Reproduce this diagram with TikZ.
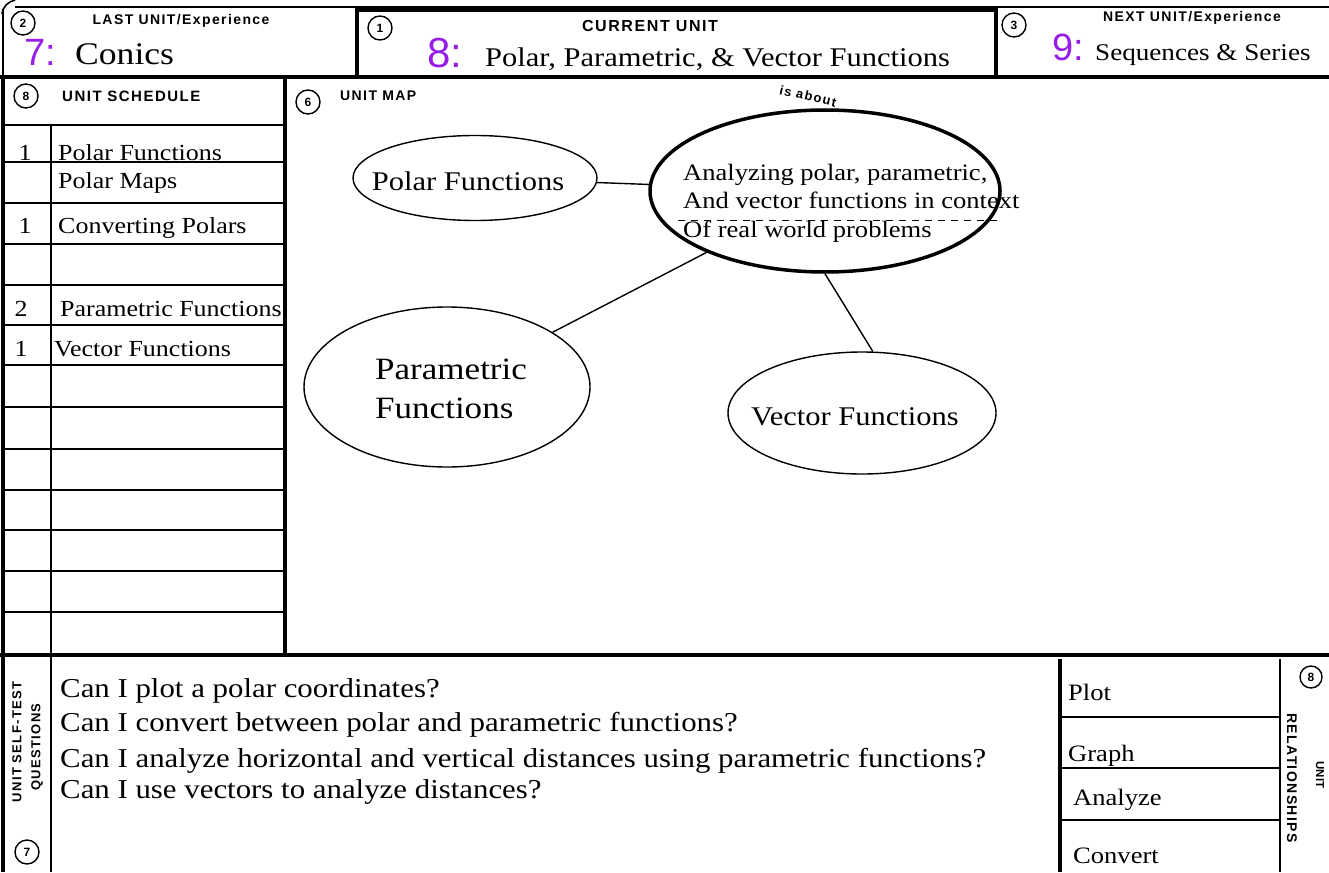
\documentclass[tikz,border=0pt]{standalone}
\usepackage{fontspec}
\setmainfont{Liberation Serif}[FakeStretch=1.13]
\setsansfont{Liberation Sans}
\newfontfamily\hdrfont{Liberation Sans}[LetterSpace=10]
\usetikzlibrary{shapes.geometric}
\definecolor{ink}{RGB}{150,30,230}
\begin{document}
\begin{tikzpicture}[x=1pt,y=-1pt,
  rule/.style={line width=1.6pt},
  heavy/.style={line width=3.4pt},
  circnum/.style={circle,draw,line width=1.4pt,inner sep=0pt,minimum size=24pt,font=\sffamily\bfseries\fontsize{12}{12}\selectfont},
  hdr/.style={inner sep=0pt,font=\hdrfont\bfseries\fontsize{#1}{#1}\selectfont},
  txt/.style={inner sep=0pt,anchor=base west,font=\fontsize{#1}{#1}\selectfont},
  hand/.style={inner sep=0pt,text=ink,font=\sffamily\fontsize{#1}{#1}\selectfont},
  bubble/.style={ellipse,draw,line width=1.4pt,inner sep=0pt},
  conn/.style={line width=1.4pt},
]
\useasboundingbox (0,0) rectangle (1329,872);
\fill[white] (0,0) rectangle (1329,872);

% ---------- top strip ----------
\draw[rule] (2,14) .. controls (3,6) and (8,2) .. (15,0);
\draw[rule] (15,7) -- (1329,7);
\draw[rule] (3,9) -- (3,77);
\draw[heavy] (357,10) rectangle (996,77);
\draw[heavy] (0,77) -- (1329,77);

\node[circnum] (c2) at (23,23) {2};
\node[hdr=14] (lasth) at (181,21) {LAST UNIT/Experience};
\node[hand=38] (h7) at (40,52) {7:};
\node[txt=31.5] (conics) at (75,65) {Conics};

\node[circnum] (c1) at (380,28) {1};
\node[hdr=16] (curh) at (650,26) {CURRENT UNIT};
\node[hand=42] (h8) at (445,53) {8:};
\node[txt=27] (cur) at (485,67) {Polar, Parametric, \& Vector Functions};

\node[circnum] (c3) at (1014,25) {3};
\node[hdr=14] (nexth) at (1192,18) {NEXT UNIT/Experience};
\node[hand=38] (h9) at (1068,47) {9:};
\node[txt=24] (next) at (1095,61) {Sequences \& Series};

% ---------- schedule table ----------
\draw[heavy] (3,77) -- (3,872);
\draw[heavy] (285,77) -- (285,655);
\foreach \yy in {125,162,203,244,285,325,365,407,449,490,530,571,612}
  \draw[rule] (3,\yy) -- (285,\yy);
\draw[rule] (51,125) -- (51,872);
\draw[heavy] (0,655) -- (1329,655);

\node[circnum] (c8a) at (26,96) {8};
\node[hdr=15,anchor=west] (schh) at (62,96) {UNIT SCHEDULE};

\node[inner sep=0pt,anchor=base,font=\fontsize{23}{23}\selectfont] (n1) at (25,160) {1};
\node[txt=23] (s1) at (58,160) {Polar Functions};
\node[txt=23] (s2) at (58,188) {Polar Maps};
\node[inner sep=0pt,anchor=base,font=\fontsize{23}{23}\selectfont] (n2) at (25,233) {1};
\node[txt=23] (s3) at (58,233) {Converting Polars};
\node[inner sep=0pt,anchor=base,font=\fontsize{23}{23}\selectfont] (n3) at (21,316) {2};
\node[txt=23] (s4) at (60,316) {Parametric Functions};
\node[inner sep=0pt,anchor=base,font=\fontsize{23}{23}\selectfont] (n4) at (21,356) {1};
\node[txt=23] (s5) at (54,356) {Vector Functions};

% ---------- unit map ----------
\node[circnum] (c6) at (308,102) {6};
\node[hdr=14,anchor=west] (maph) at (340,96) {UNIT MAP};

\node[bubble,minimum width=244pt,minimum height=85pt] (polar) at (475,178) {};
\node[inner sep=0pt,font=\fontsize{27}{27}\selectfont] (polart) at (468,181) {Polar Functions};

\node[bubble,minimum width=286pt,minimum height=160pt] (param) at (447,387) {};
\node[txt=31] (paramt1) at (375,379) {Parametric};
\node[txt=31] (paramt2) at (375,418) {Functions};

\node[bubble,minimum width=268pt,minimum height=122pt] (vector) at (862,413) {};
\node[inner sep=0pt,font=\fontsize{27}{27}\selectfont] (vectort) at (855,417) {Vector Functions};

\node[bubble,line width=3.5pt,minimum width=350pt,minimum height=162pt] (central) at (825,191) {};
\node[txt=23.5] (cl1) at (683,180) {Analyzing polar, parametric,};
\node[txt=23.5] (cl2) at (683,208) {And vector functions in context};
\node[txt=23.5] (cl3) at (683,237) {Of real world problems};
\draw[line width=1pt,dash pattern=on 7pt off 6pt] (678,220) -- (1000,220);

\node[hdr=13,rotate=-13] (isab) at (808,96) {is about};

\draw[conn] (polar) -- (central);
\draw[conn] (param) -- (central);
\draw[conn] (vector.80) -- (central.south);

% ---------- self-test questions ----------
\node[hdr=13,rotate=90] (stq1) at (17,742) {UNIT SELF-TEST};
\node[hdr=13,rotate=90] (stq2) at (37,747) {QUESTIONS};
\node[circnum] (c7) at (27,852) {7};

\node[txt=27.3] (q1) at (60,697) {Can I plot a polar coordinates?};
\node[txt=27.3] (q2) at (60,731) {Can I convert between polar and parametric functions?};
\node[txt=27.3] (q3) at (60,767) {Can I analyze horizontal and vertical distances using parametric functions?};
\node[txt=27.3] (q4) at (60,798) {Can I use vectors to analyze distances?};

% ---------- relationships ----------
\draw[heavy] (1060,659) -- (1060,872);
\draw[rule] (1280,659) -- (1280,872);
\foreach \yy in {717,768,820}
  \draw[rule] (1060,\yy) -- (1280,\yy);
\node[txt=23.5] (r1) at (1068,700) {Plot};
\node[txt=23.5] (r2) at (1068,761) {Graph};
\node[txt=23.5] (r3) at (1073,805) {Analyze};
\node[txt=23.5] (r4) at (1073,863) {Convert};

\node[circnum,minimum size=22pt] (c8b) at (1311,677) {8};
\node[hdr=14,rotate=-90] (relh) at (1292,778) {RELATIONSHIPS};
\node[inner sep=0pt,rotate=-90,font=\sffamily\bfseries\fontsize{11.5}{11.5}\selectfont] (unith) at (1320,775) {UNIT};
\end{tikzpicture}
\end{document}
